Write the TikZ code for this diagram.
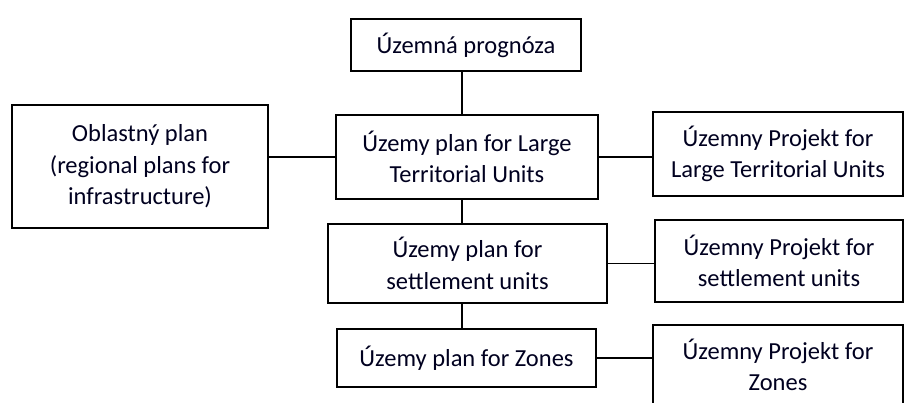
\documentclass[tikz,border=0pt]{standalone}
\usepackage{fontspec}
\setmainfont{Carlito}
\usetikzlibrary{positioning,calc}

\begin{document}
\begin{tikzpicture}[x=1pt, y=-1pt, font=\fontsize{24.5}{31.5}\selectfont,
  box/.style={draw, line width=1.8pt, align=center, inner sep=2pt, text=black!88!blue},
  link/.style={draw, line width=1.2pt}]
\useasboundingbox (0,0) rectangle (905,403);
% ---------------- central column
\node[box, minimum width=230pt, minimum height=52pt] (prog) at (466,45) {Územná prognóza};
\node[box, minimum width=262pt, minimum height=84pt] (large) at (467,157) {Územy plan for Large\\ Territorial Units};
\node[box, minimum width=279pt, minimum height=79pt] (settle) at (467.5,263.5) {Územy plan for\\ settlement units};
\node[box, minimum width=259pt, minimum height=58pt] (zones) at (466.5,358) {Územy plan for Zones};
% ---------------- left and right boxes
\node[box, minimum width=256pt, minimum height=123pt] (obl) at (140,166.5) {Oblastný plan\\ (regional plans for\\ infrastructure)};
\node[box, minimum width=250pt, minimum height=84pt] (pLarge) at (778,154) {Územny Projekt for\\ Large Territorial Units};
\node[box, minimum width=248pt, minimum height=82pt] (pSettle) at (779,261) {Územny Projekt for\\ settlement units};
\node[box, minimum width=250pt, minimum height=80pt] (pZones) at (778,365) {Územny Projekt for\\ Zones};
% ---------------- connectors
\coordinate (spine) at (462,0);
\draw[link] (prog.south -| spine) -- (large.north -| spine);
\draw[link] (large.south -| spine) -- (settle.north -| spine);
\draw[link] (settle.south -| spine) -- (zones.north -| spine);
\draw[link] (large.west) -- (large.west -| obl.east);
\draw[link] (large.east) -- (large.east -| pLarge.west);
\draw[link] (settle.east) -- (settle.east -| pSettle.west);
\draw[link] (zones.east) -- (zones.east -| pZones.west);
\end{tikzpicture}
\end{document}
